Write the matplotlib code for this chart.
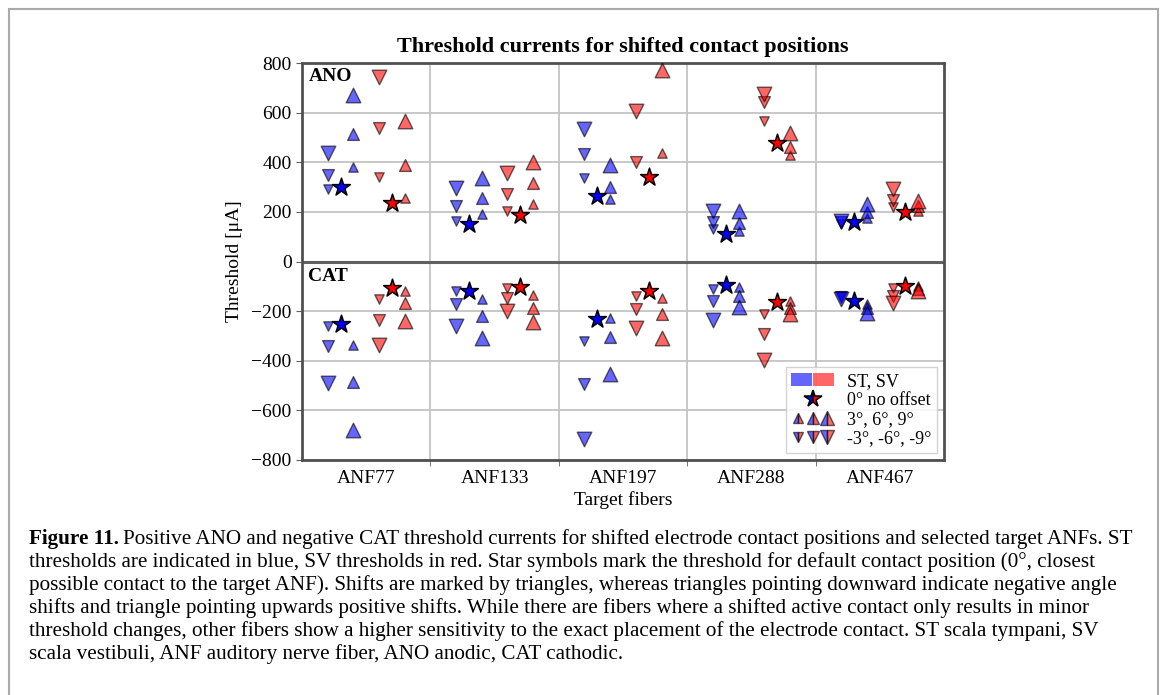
import numpy as np
import matplotlib
matplotlib.use("Agg")
import matplotlib.pyplot as plt
from matplotlib.lines import Line2D
from matplotlib.patches import Patch, Rectangle
from matplotlib.legend_handler import HandlerTuple

plt.rcParams["font.family"] = ["Liberation Serif", "DejaVu Serif"]

fibers = ["ANF77", "ANF133", "ANF197", "ANF288", "ANF467"]

# columns: 3, 6, 9 degree shift (magnitude), thresholds in uA
ano_st_neg = [[294, 349, 437], [165, 225, 295], [336, 434, 536], [130, 160, 204], [150, 158, 165]]
ano_st_zero = [302, 153, 265, 112, 160]
ano_st_pos = [[380, 512, 671], [190, 257, 336], [253, 302, 388], [123, 156, 202], [177, 198, 231]]
ano_sv_neg = [[340, 539, 742], [204, 272, 355], [np.nan, 403, 608], [566, 644, 674], [218, 248, 292]]
ano_sv_zero = [234, 187, 342, 478, 200]
ano_sv_pos = [[257, 390, 567], [233, 315, 403], [436, np.nan, 770], [430, 460, 517], [205, 222, 245]]

cat_st_neg = [[-260, -342, -490], [-119, -173, -260], [-320, -495, -715], [-111, -161, -234], [-140, -145, -151]]
cat_st_zero = [-253, -118, -233, -95, -158]
cat_st_pos = [[-336, -487, -679], [-150, -221, -307], [-229, -304, -453], [-104, -138, -183], [-172, -188, -207]]
cat_sv_neg = [[-150, -235, -336], [-108, -146, -200], [-141, -192, -268], [-212, -291, -395], [-107, -138, -169]]
cat_sv_zero = [-107, -104, -120, -165, -100]
cat_sv_pos = [[-118, -169, -240], [-134, -188, -242], [-147, -212, -309], [-161, -186, -212], [-100, -110, -120]]

caption_lines = [
    "Positive ANO and negative CAT threshold currents for shifted electrode contact positions and selected target ANFs. ST",
    "thresholds are indicated in blue, SV thresholds in red. Star symbols mark the threshold for default contact position (0\u00b0, closest",
    "possible contact to the target ANF). Shifts are marked by triangles, whereas triangles pointing downward indicate negative angle",
    "shifts and triangle pointing upwards positive shifts. While there are fibers where a shifted active contact only results in minor",
    "threshold changes, other fibers show a higher sensitivity to the exact placement of the electrode contact. ST scala tympani, SV",
    "scala vestibuli, ANF auditory nerve fiber, ANO anodic, CAT cathodic.",
]

tri_sizes = [45, 72, 110]
blue = (0, 0, 1, 0.6)
red = (1, 0, 0, 0.6)
edge = (0, 0, 0, 0.6)

fig = plt.figure(figsize=(11.69, 6.95), dpi=100)
ax = fig.add_axes([302 / 1169, 1 - 460 / 695, 642 / 1169, 397 / 695])

x = np.arange(len(fibers))
offs = [-0.3, -0.2, -0.1, 0.1, 0.2, 0.3]


def draw_group(neg, zero, pos, col, star_col, o):
    neg = np.array(neg, dtype=float)
    pos = np.array(pos, dtype=float)
    for k in range(3):
        ax.scatter(x + o[0], neg[:, k], marker="v", s=tri_sizes[k], c=[col], edgecolors=[edge], linewidths=1, zorder=3)
        ax.scatter(x + o[2], pos[:, k], marker="^", s=tri_sizes[k], c=[col], edgecolors=[edge], linewidths=1, zorder=3)
    ax.scatter(x + o[1], zero, marker="*", s=180, c=star_col, edgecolors="k", linewidths=1.1, zorder=4)


draw_group(ano_st_neg, ano_st_zero, ano_st_pos, blue, "blue", offs[:3])
draw_group(ano_sv_neg, ano_sv_zero, ano_sv_pos, red, "red", offs[3:])
draw_group(cat_st_neg, cat_st_zero, cat_st_pos, blue, "blue", offs[:3])
draw_group(cat_sv_neg, cat_sv_zero, cat_sv_pos, red, "red", offs[3:])

ax.axhline(0, color="#606060", lw=2.2, zorder=2)
ax.set_xlim(-0.5, len(fibers) - 0.5)
ax.set_ylim(-800, 800)
ax.set_yticks(np.arange(-800, 801, 200))
ax.set_xticks(x)
ax.set_xticklabels(fibers)
ax.set_xticks(x[:-1] + 0.5, minor=True)
ax.grid(True, which="minor", axis="x", color="#c4c4c4", lw=1.3)
ax.grid(True, which="major", axis="y", color="#c4c4c4", lw=1.3)
ax.set_axisbelow(True)
ax.tick_params(axis="x", which="major", length=0, labelsize=14, pad=7)
ax.tick_params(axis="x", which="minor", length=4, color="#606060")
ax.tick_params(axis="y", length=4, color="#606060", labelsize=14)
for sp in ax.spines.values():
    sp.set_color("#505050")
    sp.set_linewidth(2)

ax.set_title("Threshold currents for shifted contact positions", fontsize=16, fontweight="bold", pad=8)
ax.set_ylabel("Threshold [\u03bcA]", fontsize=14, labelpad=6)
ax.set_xlabel("Target fibers", fontsize=14, labelpad=3)

ax.text(0.01, 0.967, "ANO", transform=ax.transAxes, fontsize=14, fontweight="bold", va="center")
ax.text(0.01, 0.463, "CAT", transform=ax.transAxes, fontsize=14, fontweight="bold", va="center")

# legend with split-colour markers
h_color = (Patch(facecolor=blue, edgecolor="none"), Patch(facecolor=red, edgecolor="none"))
h_star = Line2D([], [], ls="", marker="*", ms=13, mfc="blue", mfcalt="red", fillstyle="left", mec="k", mew=1.1)
h_up = tuple(Line2D([], [], ls="", marker="^", ms=m, mfc=blue, mfcalt=red, fillstyle="left", mec=edge)
             for m in [7, 8.5, 10.5])
h_dn = tuple(Line2D([], [], ls="", marker="v", ms=m, mfc=blue, mfcalt=red, fillstyle="left", mec=edge)
             for m in [7, 8.5, 10.5])
leg = ax.legend([h_color, h_star, h_up, h_dn],
                ["ST, SV", "0\u00b0 no offset", "3\u00b0, 6\u00b0, 9\u00b0", "-3\u00b0, -6\u00b0, -9\u00b0"],
                handler_map={tuple: HandlerTuple(ndivide=None, pad=0.05)},
                loc="lower right", fontsize=13, handlelength=2.4, handletextpad=0.7,
                labelspacing=0.12, borderpad=0.3, borderaxespad=0.4,
                fancybox=False, edgecolor="#cccccc", framealpha=0.85)

# outer frame of the figure panel
fig.patches.append(Rectangle((9 / 1169, -0.05), 1149 / 1169, 1.05 - 9 / 695, transform=fig.transFigure,
                             fill=False, edgecolor="#aaaaaa", lw=1.5))

# caption
cap_size = 15.2
y0 = 1 - 539 / 695
dy = 23 / 695
fig.canvas.draw()
r = fig.canvas.get_renderer()
t = fig.text(29 / 1169, y0, "Figure 11.", fontsize=cap_size, fontweight="bold", va="center")
bb = t.get_window_extent(renderer=r)
fig.text(bb.x1 / 1169 + 4 / 1169, y0, caption_lines[0], fontsize=cap_size, va="center")
for i, line in enumerate(caption_lines[1:], start=1):
    fig.text(29 / 1169, y0 - i * dy, line, fontsize=cap_size, va="center")

fig.savefig("out.png", dpi=100)
